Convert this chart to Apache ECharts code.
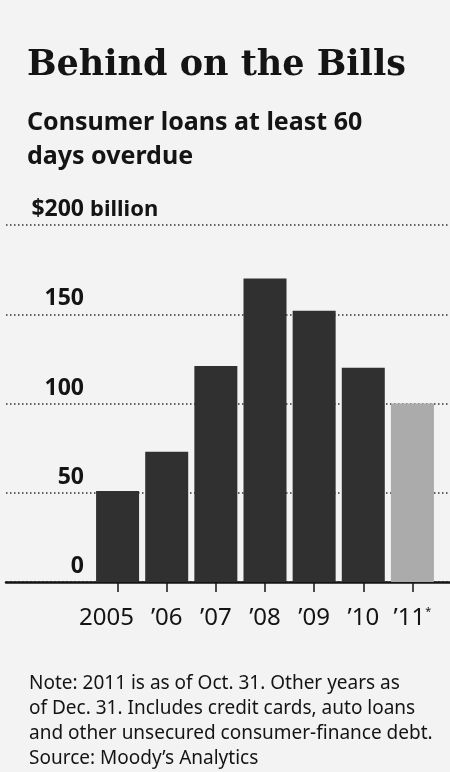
<!DOCTYPE html>
<html>
<head>
<meta charset="utf-8">
<script src="https://cdn.jsdelivr.net/npm/echarts@6/dist/echarts.min.js"></script>
<style>
  html, body { margin: 0; padding: 0; background: #f3f3f3; }
  #chart { width: 450px; height: 772px; }
</style>
</head>
<body>
<div id="chart"></div>
<script type="text/javascript">

    // data ($ billion)
    var years = ['2005', '’06', '’07', '’08', '’09', '’10', '’11'];
    var loans = [51, 73, 121, 170, 152, 120, 100];
    var partialIndex = 6;   // 2011 is as of Oct. 31, drawn lighter
    var yMax = 200;
    var yStep = 50;

    var ink = '#141414';
    var sans = '"Noto Sans", "Open Sans", sans-serif';

    var barData = [];
    for (var i = 0; i < loans.length; i++) {
        if (i === partialIndex) {
            barData.push({value: loans[i], itemStyle: {color: '#ababab'}});
        } else {
            barData.push(loans[i]);
        }
    }

    var xLabels = [];
    for (var j = 0; j < years.length; j++) {
        if (j === 0) {
            // the first year sits a bit left of its tick
            xLabels.push({value: years[j], textStyle: {padding: [0, 22, 0, 0]}});
        } else {
            xLabels.push(years[j]);
        }
    }

    var gridTop = 225;
    var gridBottom = 190;

    var myChart = echarts.init(document.getElementById('chart'));
    var option = {
        backgroundColor: '#f3f3f3',
        animation: false,
        title: [
            {
                text: 'Behind on the Bills',
                left: 27, top: 48, padding: 0,
                textStyle: {
                    fontFamily: '"DejaVu Serif", serif', fontWeight: 'bold',
                    fontSize: 35, lineHeight: 35, color: ink
                }
            },
            {
                text: 'Consumer loans at least 60\ndays overdue',
                left: 27, top: 106, padding: 0,
                textStyle: {
                    fontFamily: sans, fontWeight: 'bold',
                    fontSize: 25, lineHeight: 34, color: ink
                }
            },
            {
                text: 'Note: 2011 is as of Oct. 31. Other years as\nof Dec. 31. Includes credit cards, auto loans\nand other unsecured consumer-finance debt.\nSource: Moody’s Analytics',
                left: 29, top: 671, padding: 0,
                textStyle: {
                    fontFamily: sans, fontWeight: 'normal',
                    fontSize: 19, lineHeight: 25, color: ink
                }
            }
        ],
        grid: [
            // full width grid: dotted gridlines and the baseline
            {left: 6, right: 0, top: gridTop, bottom: gridBottom},
            // bars
            {left: 93, right: 13, top: gridTop, bottom: gridBottom}
        ],
        xAxis: [
            {
                gridIndex: 0, type: 'value', min: 0, max: 1,
                axisLine: {show: true, lineStyle: {color: ink, width: 2.5}},
                axisTick: {show: false}, axisLabel: {show: false}, splitLine: {show: false}
            },
            {
                gridIndex: 1, type: 'category', data: xLabels,
                axisLine: {show: false},
                axisTick: {show: true, alignWithLabel: true, length: 10, lineStyle: {color: ink, width: 1.5}},
                axisLabel: {
                    interval: 0, hideOverlap: false,
                    margin: 24, fontFamily: sans, fontSize: 24, lineHeight: 24, color: ink,
                    formatter: function (v, idx) {
                        return idx === partialIndex ? v + '{s|*}' : v;
                    },
                    rich: {s: {fontSize: 11, verticalAlign: 'top', color: ink, fontFamily: sans}}
                }
            }
        ],
        yAxis: [
            {
                gridIndex: 0, type: 'value', min: 0, max: yMax, interval: yStep,
                axisLine: {show: false}, axisTick: {show: false}, axisLabel: {show: false},
                splitLine: {show: true, lineStyle: {color: '#333', width: 1.5, type: [1.5, 2.5]}}
            },
            {
                gridIndex: 1, type: 'value', min: 0, max: yMax, interval: yStep,
                name: 'billion', nameLocation: 'end', nameGap: 15,
                nameTextStyle: {
                    align: 'left', verticalAlign: 'middle', padding: [0, 0, 0, -3],
                    fontFamily: sans, fontWeight: 'bold', fontSize: 22, color: ink
                },
                axisLine: {show: false}, axisTick: {show: false}, splitLine: {show: false},
                axisLabel: {
                    margin: 9, verticalAlign: 'bottom', padding: [0, 0, 4, 0],
                    fontFamily: sans, fontWeight: 'bold', fontSize: 23, lineHeight: 23, color: ink,
                    formatter: function (v) {
                        return v === yMax ? '$' + v : String(v);
                    }
                }
            }
        ],
        series: [{
            type: 'bar',
            xAxisIndex: 1,
            yAxisIndex: 1,
            data: barData,
            barWidth: 43,
            itemStyle: {color: '#303030'}
        }]
    };
    myChart.setOption(option);
</script>
</body>
</html>
